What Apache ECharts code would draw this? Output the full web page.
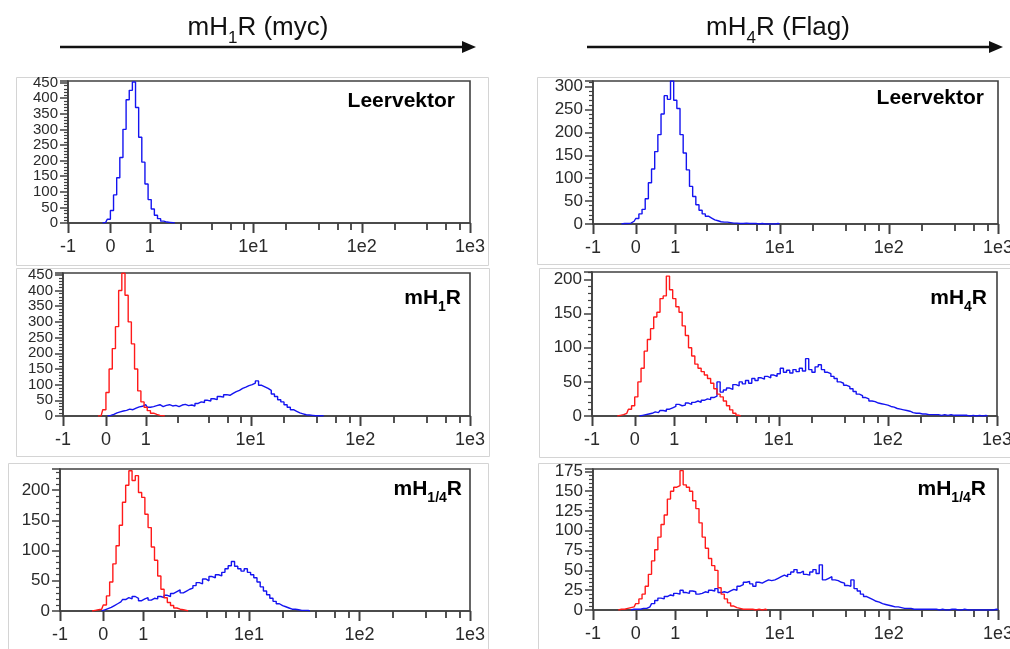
<!DOCTYPE html>
<html><head><meta charset="utf-8">
<script src="https://cdn.jsdelivr.net/npm/echarts@6/dist/echarts.min.js"></script>
<style>html,body{margin:0;padding:0;background:#fff}#c{width:1010px;height:649px}</style>
</head><body><div id="c"></div>
<script>
// ---- x axis: 128-channel logicle-like display, tick labels at these channels ----
const xTickLabels = ['-1', '0', '1', '1e1', '1e2', '1e3'];
const xTickChannels = [0, 13.5, 26, 59, 93.5, 128];
const xMinorMultipliers = [2, 4, 6, 8];

// ---- histogram counts per channel (start channel + counts) ----
const mycEmptyBlueStart = 12;
const mycEmptyBlue = [2, 12, 40, 90, 145, 210, 300, 395, 425, 452, 370, 275, 195, 125, 75, 45, 25, 14, 6, 3, 2, 1, 0];

const mycH1RedStart = 12;
const mycH1Red = [1, 20, 75, 150, 215, 285, 400, 455, 385, 300, 230, 150, 80, 45, 28, 17, 9, 5, 2, 1, 0];
const mycH1BlueStart = 15;
const mycH1Blue = [2, 5, 10, 13, 16, 18, 22, 20, 25, 29, 31, 36, 28, 30, 33, 36, 30, 34, 36, 32, 34, 30, 35, 37, 33, 35, 32, 40, 45, 43, 50, 48, 55, 52, 62, 60, 68, 66, 72, 78, 82, 88, 92, 97, 100, 105, 112, 98, 93, 88, 82, 70, 62, 52, 45, 36, 28, 20, 15, 10, 7, 4, 3, 2, 1, 1, 1, 0];

const mycH14RedStart = 11;
const mycH14Red = [1, 2, 3, 10, 25, 48, 78, 108, 142, 180, 208, 232, 216, 224, 196, 188, 160, 138, 106, 84, 58, 36, 22, 14, 9, 5, 3, 2, 1, 0];
const mycH14BlueStart = 14;
const mycH14Blue = [2, 4, 6, 9, 12, 15, 19, 22, 20, 24, 21, 17, 20, 22, 18, 21, 20, 24, 22, 26, 24, 29, 32, 35, 30, 33, 36, 38, 42, 47, 45, 53, 50, 57, 55, 60, 58, 64, 70, 75, 82, 74, 70, 66, 70, 64, 60, 55, 48, 40, 33, 27, 21, 16, 12, 9, 7, 5, 3, 3, 2, 1, 1, 1, 0];

const flagEmptyBlueStart = 10;
const flagEmptyBlue = [1, 1, 2, 6, 12, 22, 32, 55, 90, 120, 158, 195, 240, 280, 272, 312, 270, 252, 195, 155, 118, 82, 60, 42, 30, 22, 17, 13, 9, 7, 5, 4, 4, 3, 2, 2, 1, 1, 2, 1, 1, 1, 0, 1, 0, 0, 0, 0, 1, 0];

const flagH4RedStart = 9;
const flagH4Red = [1, 2, 4, 10, 15, 28, 50, 70, 95, 112, 128, 145, 152, 172, 176, 205, 185, 172, 160, 152, 132, 118, 100, 88, 76, 70, 65, 60, 55, 48, 40, 32, 28, 22, 15, 9, 4, 1, 0];
const flagH4BlueStart = 16;
const flagH4Blue = [1, 2, 3, 4, 6, 5, 8, 7, 10, 12, 14, 17, 15, 16, 19, 17, 20, 22, 20, 23, 25, 24, 27, 29, 50, 35, 38, 41, 39, 46, 44, 50, 47, 52, 48, 55, 52, 56, 54, 58, 56, 60, 58, 62, 70, 64, 67, 63, 68, 65, 70, 66, 84, 68, 64, 72, 75, 68, 64, 62, 58, 55, 50, 48, 45, 43, 40, 36, 32, 30, 27, 25, 22, 21, 19, 18, 17, 16, 14, 13, 11, 10, 9, 8, 7, 5, 4, 4, 3, 3, 2, 2, 2, 2, 1, 2, 1, 2, 1, 1, 1, 1, 1, 0, 1, 0, 1, 0, 1, 0];

const flagH14RedStart = 9;
const flagH14Red = [1, 1, 2, 3, 4, 8, 14, 20, 30, 45, 62, 76, 92, 108, 120, 140, 150, 155, 157, 176, 158, 155, 150, 138, 128, 110, 92, 78, 65, 56, 50, 28, 20, 14, 9, 5, 3, 2, 1, 1, 1, 1, 0, 1, 0, 1, 0];
const flagH14BlueStart = 13;
const flagH14Blue = [1, 1, 1, 2, 2, 4, 8, 12, 15, 14, 17, 19, 18, 21, 20, 25, 22, 21, 24, 23, 20, 21, 23, 22, 25, 24, 27, 22, 23, 22, 24, 26, 25, 30, 32, 35, 36, 33, 30, 35, 34, 36, 38, 37, 38, 40, 42, 44, 42, 45, 48, 51, 47, 49, 45, 44, 48, 51, 46, 57, 38, 40, 42, 38, 37, 35, 34, 31, 30, 38, 27, 24, 20, 17, 15, 13, 11, 10, 8, 7, 6, 5, 4, 4, 3, 2, 2, 2, 1, 1, 1, 1, 1, 1, 1, 1, 0, 1, 0, 0, 1, 1, 0, 0, 1, 0, 0, 0, 0, 0, 0, 0, 0, 0, 1, 0];

// ---- panels ----
const BLUE = '#1414f0', RED = '#ff1a1a';
const panels = [
  {grid: {left: 68, top: 81, width: 402, height: 142}, ymax: 455, yint: 50, yfs: 15,
   label: [['a', 'Leervektor']], lx: 455, ly: 103,
   series: [[mycEmptyBlueStart, mycEmptyBlue, BLUE]]},
  {grid: {left: 63, top: 273, width: 407, height: 143}, ymax: 456, yint: 50, yfs: 15,
   label: [['a', 'mH'], ['s', '1'], ['a', 'R']], lx: 461, ly: 300,
   series: [[mycH1BlueStart, mycH1Blue, BLUE], [mycH1RedStart, mycH1Red, RED]]},
  {grid: {left: 60, top: 469, width: 410, height: 142}, ymax: 235, yint: 50, yfs: 17,
   label: [['a', 'mH'], ['s', '1/4'], ['a', 'R']], lx: 462, ly: 491,
   series: [[mycH14BlueStart, mycH14Blue, BLUE], [mycH14RedStart, mycH14Red, RED]]},
  {grid: {left: 593, top: 81, width: 405, height: 143}, ymax: 312, yint: 50, yfs: 17,
   label: [['a', 'Leervektor']], lx: 984, ly: 100,
   series: [[flagEmptyBlueStart, flagEmptyBlue, BLUE]]},
  {grid: {left: 592, top: 272, width: 405, height: 144}, ymax: 211, yint: 50, yfs: 17,
   label: [['a', 'mH'], ['s', '4'], ['a', 'R']], lx: 987, ly: 300,
   series: [[flagH4BlueStart, flagH4Blue, BLUE], [flagH4RedStart, flagH4Red, RED]]},
  {grid: {left: 593, top: 469, width: 405, height: 141}, ymax: 178, yint: 25, yfs: 17,
   label: [['a', 'mH'], ['s', '1/4'], ['a', 'R']], lx: 986, ly: 491,
   series: [[flagH14BlueStart, flagH14Blue, BLUE], [flagH14RedStart, flagH14Red, RED]]}
];

// minor tick channels (2,4,6,8 x each decade from 1 to 1e3)
const minorTicks = [];
for (let d = 2; d < xTickChannels.length - 1; d++) {
  const a = xTickChannels[d], b = xTickChannels[d + 1];
  xMinorMultipliers.forEach(k => minorTicks.push(a + (b - a) * Math.log10(k)));
}

const AX = '#404040';
const FONT = 'Arial, "Liberation Sans", sans-serif';
const grids = [], xAxes = [], yAxes = [], series = [], graphics = [];

// light frames around each panel
const frames = [
  [16, 77, 472, 188], [16, 268, 473, 188], [8, 463, 480, 200],
  [537, 77, 480, 187], [539, 268, 480, 189], [538, 463, 480, 200]
];
frames.forEach(f => graphics.push({type: 'rect', shape: {x: f[0] + 0.5, y: f[1] + 0.5, width: f[2], height: f[3]},
  style: {fill: 'none', stroke: '#d4d4d4', lineWidth: 1}, silent: true, z: -1}));

panels.forEach((p, i) => {
  grids.push(Object.assign({show: true, borderColor: AX, borderWidth: 1.6, outerBoundsMode: 'none', containLabel: false}, p.grid));
  xAxes.push({
    type: 'value', gridIndex: i, min: 0, max: 128, position: 'bottom',
    axisLine: {show: true, onZero: false, lineStyle: {color: AX, width: 1.6}},
    axisTick: {show: true, customValues: minorTicks, length: 7, lineStyle: {color: AX, width: 1.8}},
    axisLabel: {show: true, customValues: xTickChannels, margin: 15, fontSize: 18, color: '#2a2a2a', fontFamily: FONT,
      formatter: v => { const j = xTickChannels.findIndex(t => Math.abs(t - v) < 0.01); return j >= 0 ? xTickLabels[j] : ''; }},
    splitLine: {show: false}
  });
  yAxes.push({
    type: 'value', gridIndex: i, min: 0, max: p.ymax, interval: p.yint,
    axisLine: {show: true, onZero: false, lineStyle: {color: AX, width: 1.6}},
    axisTick: {show: true, length: 8, lineStyle: {color: AX, width: 1.5}},
    minorTick: {show: true, splitNumber: 5, length: 4, lineStyle: {color: AX, width: 1.2}},
    axisLabel: {fontSize: p.yfs, color: '#2a2a2a', fontFamily: FONT, margin: 10, showMaxLabel: p.ymax % p.yint === 0},
    splitLine: {show: false}, minorSplitLine: {show: false}
  });
  p.series.forEach(s => {
    const [start, counts, color] = s;
    const data = [[start - 1, 0]].concat(counts.map((v, k) => [start + k, v]));
    series.push({type: 'line', xAxisIndex: i, yAxisIndex: i, step: 'middle', symbol: 'none',
      data: data, lineStyle: {color: color, width: 1.4}, itemStyle: {color: color}, silent: true, clip: true});
  });
  graphics.push({
    type: 'text', x: p.lx, y: p.ly, silent: true,
    style: {
      text: p.label.map(t => '{' + t[0] + '|' + t[1] + '}').join(''),
      align: 'right', verticalAlign: 'middle',
      rich: {
        a: {fontSize: 21, fontWeight: 'bold', fontFamily: FONT, fill: '#000', lineHeight: 24, verticalAlign: 'top'},
        s: {fontSize: 14, fontWeight: 'bold', fontFamily: FONT, fill: '#000', lineHeight: 14, verticalAlign: 'top', padding: [12, 0, 0, 0]}
      }
    }
  });
});

// headers with arrows
const headers = [
  {parts: [['a', 'mH'], ['s', '1'], ['a', 'R (myc)']], cx: 258, cy: 29, x1: 60, x2: 476, y: 47},
  {parts: [['a', 'mH'], ['s', '4'], ['a', 'R (Flag)']], cx: 778, cy: 29, x1: 587, x2: 1003, y: 47}
];
headers.forEach(h => {
  graphics.push({type: 'text', x: h.cx, y: h.cy, silent: true, style: {
    text: h.parts.map(t => '{' + t[0] + '|' + t[1] + '}').join(''), align: 'center', verticalAlign: 'middle',
    rich: {
      a: {fontSize: 26, fontFamily: FONT, fill: '#111', lineHeight: 28, verticalAlign: 'top'},
      s: {fontSize: 17, fontFamily: FONT, fill: '#111', lineHeight: 16, verticalAlign: 'top', padding: [15, 0, 0, 0]}
    }}});
  graphics.push({type: 'line', silent: true, shape: {x1: h.x1, y1: h.y, x2: h.x2 - 12, y2: h.y}, style: {stroke: '#111', lineWidth: 2.6}});
  graphics.push({type: 'polygon', silent: true, shape: {points: [[h.x2 - 14, h.y - 6], [h.x2, h.y], [h.x2 - 14, h.y + 6]]}, style: {fill: '#111'}});
});

const chart = echarts.init(document.getElementById('c'), null, {renderer: 'canvas'});
chart.setOption({
  animation: false, backgroundColor: '#fff',
  grid: grids, xAxis: xAxes, yAxis: yAxes, series: series, graphic: graphics
});

// long major x ticks placed through the axis scale
const tickGraphics = [];
panels.forEach((p, i) => {
  xTickChannels.forEach(c => {
    const pt = chart.convertToPixel({xAxisIndex: i, yAxisIndex: i}, [c, 0]);
    const x = Math.round(pt[0]) + 0.5;
    tickGraphics.push({type: 'line', silent: true, z: 10,
      shape: {x1: x, y1: pt[1], x2: x, y2: pt[1] + 10}, style: {stroke: AX, lineWidth: 2}});
  });
});
chart.setOption({graphic: graphics.concat(tickGraphics)});
</script></body></html>
